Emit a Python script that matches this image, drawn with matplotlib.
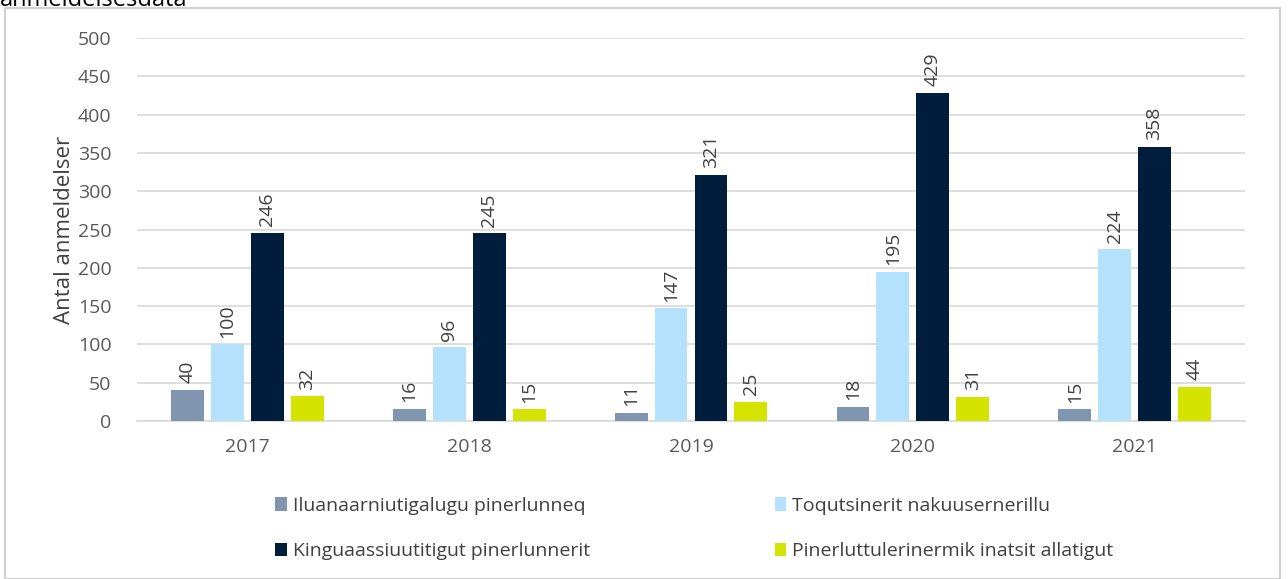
import matplotlib.pyplot as plt
import numpy as np
from matplotlib.patches import Rectangle

years = ["2017", "2018", "2019", "2020", "2021"]
series_names = ["Iluanaarniutigalugu pinerlunneq", "Toqutsinerit nakuusernerillu",
                "Kinguaassiuutitigut pinerlunnerit", "Pinerluttulerinermik inatsit allatigut"]
iluanaarniut = [40, 16, 11, 18, 15]
toqutsinerit = [100, 96, 147, 195, 224]
kinguaassiuut = [246, 245, 321, 429, 358]
pinerluttuler = [32, 15, 25, 31, 44]
colors = ["#7F95B0", "#B4E1FB", "#001E3C", "#D5E300"]

plt.rcParams['font.family'] = ['Open Sans', 'DejaVu Sans']

fig = plt.figure(figsize=(12.88, 5.79), dpi=100)
ax = fig.add_axes([0.106, 0.273, 0.861, 0.661])

# outer chart frame
fig.patches.append(Rectangle((5 / 1288, 0), 1275 / 1288, 1 - 8 / 579,
                             transform=fig.transFigure, fill=False,
                             edgecolor="#D0D0D0", linewidth=1.5))
fig.text(0.0, 1.02, "anmeldelsesdata", fontsize=17, va="top", ha="left")

x = np.arange(len(years))
width = 0.148
pitch = 0.18
all_series = [iluanaarniut, toqutsinerit, kinguaassiuut, pinerluttuler]
for i, (vals, name, col) in enumerate(zip(all_series, series_names, colors)):
    pos = x + (i - 1.5) * pitch
    ax.bar(pos, vals, width, color=col, label=name, zorder=3)
    for px, v in zip(pos, vals):
        ax.text(px, v + 9, str(v), rotation=90, ha="center", va="bottom",
                fontsize=14, color="#404040")

ax.set_ylim(0, 500)
ax.set_xlim(-0.5, len(years) - 0.5)
ax.set_yticks(np.arange(0, 501, 50))
ax.set_xticks(x)
ax.set_xticklabels(years)
ax.tick_params(axis="both", length=0, labelsize=14, colors="#595959", pad=12)
ax.tick_params(axis="y", pad=18)
ax.grid(axis="y", color="#D9D9D9", linewidth=1.2, zorder=0)
for s in ["top", "right", "left"]:
    ax.spines[s].set_visible(False)
ax.spines["bottom"].set_color("#D9D9D9")
ax.spines["bottom"].set_linewidth(1.2)
ax.set_ylabel("Antal anmeldelser", fontsize=16, color="#404040", labelpad=2)

# legend laid out row by row like the reference
handles, labels = ax.get_legend_handles_labels()
order = [0, 2, 1, 3]
fig.legend([handles[k] for k in order], [labels[k] for k in order],
           loc="center", bbox_to_anchor=(0.539, 0.087), ncol=2,
           frameon=False, fontsize=14, labelcolor="#404040", handlelength=0.6,
           handleheight=0.7, handletextpad=0.3, columnspacing=9.5, labelspacing=1.4)

fig.savefig("out.png", dpi=100)
